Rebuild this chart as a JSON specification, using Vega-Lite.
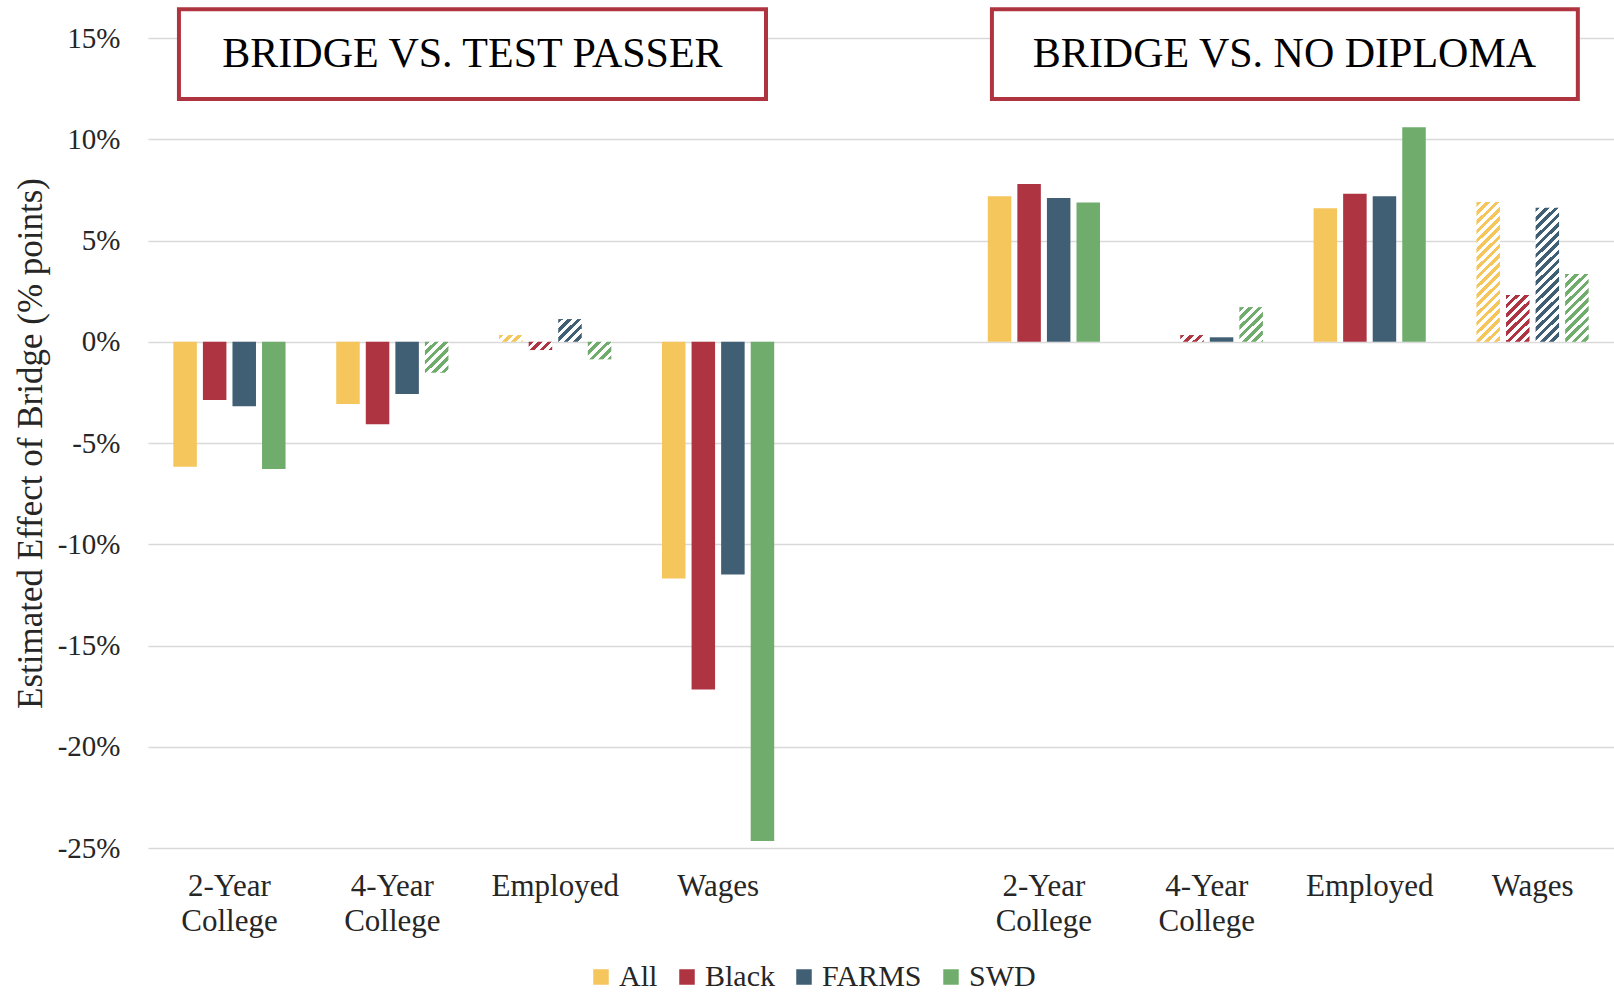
{
  "$schema": "https://vega.github.io/schema/vega-lite/v6.json",
  "width": 1466,
  "height": 810,
  "autosize": {"type": "none"},
  "padding": {"left": 148, "top": 38, "right": 0, "bottom": 146},
  "background": "white",
  "config": {
    "view": {"stroke": null},
    "font": "Liberation Serif"
  },
  "datasets": {
    "bars": [
      {"cat": "P1", "group": "All", "value": -0.0617, "sig": 1},
      {"cat": "P1", "group": "Black", "value": -0.0288, "sig": 1},
      {"cat": "P1", "group": "FARMS", "value": -0.0318, "sig": 1},
      {"cat": "P1", "group": "SWD", "value": -0.0629, "sig": 1},
      {"cat": "P2", "group": "All", "value": -0.0308, "sig": 1},
      {"cat": "P2", "group": "Black", "value": -0.0408, "sig": 1},
      {"cat": "P2", "group": "FARMS", "value": -0.0258, "sig": 1},
      {"cat": "P2", "group": "SWD", "value": -0.0153, "sig": 0},
      {"cat": "P3", "group": "All", "value": 0.0033, "sig": 0},
      {"cat": "P3", "group": "Black", "value": -0.0041, "sig": 0},
      {"cat": "P3", "group": "FARMS", "value": 0.0112, "sig": 0},
      {"cat": "P3", "group": "SWD", "value": -0.0087, "sig": 0},
      {"cat": "P4", "group": "All", "value": -0.1169, "sig": 1},
      {"cat": "P4", "group": "Black", "value": -0.1717, "sig": 1},
      {"cat": "P4", "group": "FARMS", "value": -0.1149, "sig": 1},
      {"cat": "P4", "group": "SWD", "value": -0.2466, "sig": 1},
      {"cat": "N1", "group": "All", "value": 0.0719, "sig": 1},
      {"cat": "N1", "group": "Black", "value": 0.0779, "sig": 1},
      {"cat": "N1", "group": "FARMS", "value": 0.071, "sig": 1},
      {"cat": "N1", "group": "SWD", "value": 0.0688, "sig": 1},
      {"cat": "N2", "group": "All", "value": 0.0, "sig": 1},
      {"cat": "N2", "group": "Black", "value": 0.0033, "sig": 0},
      {"cat": "N2", "group": "FARMS", "value": 0.0022, "sig": 1},
      {"cat": "N2", "group": "SWD", "value": 0.0171, "sig": 0},
      {"cat": "N3", "group": "All", "value": 0.0659, "sig": 1},
      {"cat": "N3", "group": "Black", "value": 0.0731, "sig": 1},
      {"cat": "N3", "group": "FARMS", "value": 0.0719, "sig": 1},
      {"cat": "N3", "group": "SWD", "value": 0.1059, "sig": 1},
      {"cat": "N4", "group": "All", "value": 0.069, "sig": 0},
      {"cat": "N4", "group": "Black", "value": 0.0231, "sig": 0},
      {"cat": "N4", "group": "FARMS", "value": 0.0662, "sig": 0},
      {"cat": "N4", "group": "SWD", "value": 0.0334, "sig": 0}
    ],
    "boxes": [
      {"label": "BRIDGE VS. TEST PASSER", "x0": 0.19, "x1": 3.794, "xc": 1.992, "y0": 0.1642, "y1": 0.1199, "yc": 0.1423},
      {"label": "BRIDGE VS. NO DIPLOMA", "x0": 5.181, "x1": 8.778, "xc": 6.977, "y0": 0.1642, "y1": 0.1199, "yc": 0.1423}
    ]
  },
  "resolve": {"scale": {"x": "independent"}, "axis": {"x": "independent"}},
  "layer": [
    {
      "data": {"name": "bars"},
      "encoding": {
        "x": {
          "field": "cat", "type": "nominal",
          "scale": {"domain": ["P1", "P2", "P3", "P4", "gap", "N1", "N2", "N3", "N4"], "paddingInner": 0, "paddingOuter": 0},
          "axis": {
            "title": null, "labelAngle": 0, "domain": false, "ticks": false, "grid": false,
            "labelPadding": 23, "labelFontSize": 31, "labelLineHeight": 35, "labelFont": "Liberation Serif", "labelColor": "#262626",
            "labelExpr": "datum.value == 'gap' ? '' : (datum.value == 'P1' || datum.value == 'N1') ? ['2-Year', 'College'] : (datum.value == 'P2' || datum.value == 'N2') ? ['4-Year', 'College'] : (datum.value == 'P3' || datum.value == 'N3') ? 'Employed' : 'Wages'"
          }
        },
        "xOffset": {"field": "group", "type": "nominal", "scale": {"domain": ["All", "Black", "FARMS", "SWD"], "paddingInner": 0.205, "paddingOuter": 0.857}},
        "y": {
          "field": "value", "type": "quantitative",
          "scale": {"domain": [-0.25, 0.15], "nice": false},
          "axis": {
            "values": [-0.25, -0.2, -0.15, -0.1, -0.05, 0, 0.05, 0.1, 0.15],
            "labelExpr": "(datum.value < 0 ? '-' : '') + format(abs(datum.value), '.0%')",
            "domain": false, "ticks": false, "grid": true, "gridColor": "#D9D9D9", "gridWidth": 1.5,
            "labelPadding": 28, "labelFontSize": 29, "labelFont": "Liberation Serif", "labelColor": "#262626",
            "title": "Estimated Effect of Bridge (% points)", "titleFontSize": 35, "titleFont": "Liberation Serif",
            "titleFontWeight": "normal", "titleColor": "#262626", "titleX": -118, "titleBaseline": "middle"
          }
        }
      },
      "layer": [
        {
          "transform": [{"filter": "datum.sig == 1"}],
          "mark": {"type": "bar"},
          "encoding": {
            "color": {
              "field": "group", "type": "nominal",
              "scale": {"domain": ["All", "Black", "FARMS", "SWD"], "range": ["#F4C65C", "#AD3440", "#405F75", "#70AD6C"]},
              "legend": {
                "title": null, "orient": "none", "legendX": 438, "legendY": 924, "direction": "horizontal",
                "symbolType": "square", "symbolSize": 240, "symbolStrokeWidth": 0, "symbolOpacity": 1,
                "labelFontSize": 30, "labelFont": "Liberation Serif", "labelColor": "#262626",
                "columnPadding": 14, "labelOffset": 3
              }
            }
          }
        },
        {
          "transform": [{"filter": "datum.sig == 0"}],
          "mark": {"type": "bar"},
          "encoding": {
            "fill": {
              "condition": [
                {"test": "datum.cat == 'P2' && datum.group == 'SWD'", "value": {"gradient": "linear", "x1": 0, "y1": 0, "x2": 2.840, "y2": 3.828, "stops": [
                  {"offset": 0, "color": "#70AD6C"}, {"offset": 0.025, "color": "#70AD6C"}, {"offset": 0.025, "color": "#fff"}, {"offset": 0.05, "color": "#fff"},
                  {"offset": 0.05, "color": "#70AD6C"}, {"offset": 0.075, "color": "#70AD6C"}, {"offset": 0.075, "color": "#fff"}, {"offset": 0.1, "color": "#fff"},
                  {"offset": 0.1, "color": "#70AD6C"}, {"offset": 0.125, "color": "#70AD6C"}, {"offset": 0.125, "color": "#fff"}, {"offset": 0.15, "color": "#fff"},
                  {"offset": 0.15, "color": "#70AD6C"}, {"offset": 0.175, "color": "#70AD6C"}, {"offset": 0.175, "color": "#fff"}, {"offset": 0.2, "color": "#fff"},
                  {"offset": 0.2, "color": "#70AD6C"}, {"offset": 0.225, "color": "#70AD6C"}, {"offset": 0.225, "color": "#fff"}, {"offset": 0.25, "color": "#fff"},
                  {"offset": 0.25, "color": "#70AD6C"}, {"offset": 0.275, "color": "#70AD6C"}, {"offset": 0.275, "color": "#fff"}, {"offset": 0.3, "color": "#fff"}
                ]}},
                {"test": "datum.cat == 'P3' && datum.group == 'All'", "value": {"gradient": "linear", "x1": 0, "y1": 0, "x2": 7.374, "y2": 2.148, "stops": [
                  {"offset": 0, "color": "#F4C65C"}, {"offset": 0.025, "color": "#F4C65C"}, {"offset": 0.025, "color": "#fff"}, {"offset": 0.05, "color": "#fff"},
                  {"offset": 0.05, "color": "#F4C65C"}, {"offset": 0.075, "color": "#F4C65C"}, {"offset": 0.075, "color": "#fff"}, {"offset": 0.1, "color": "#fff"},
                  {"offset": 0.1, "color": "#F4C65C"}, {"offset": 0.125, "color": "#F4C65C"}, {"offset": 0.125, "color": "#fff"}, {"offset": 0.15, "color": "#fff"},
                  {"offset": 0.15, "color": "#F4C65C"}, {"offset": 0.175, "color": "#F4C65C"}, {"offset": 0.175, "color": "#fff"}, {"offset": 0.2, "color": "#fff"}
                ]}},
                {"test": "datum.cat == 'P3' && datum.group == 'Black'", "value": {"gradient": "linear", "x1": 0, "y1": 0, "x2": 7.078, "y2": 2.554, "stops": [
                  {"offset": 0, "color": "#AD3440"}, {"offset": 0.025, "color": "#AD3440"}, {"offset": 0.025, "color": "#fff"}, {"offset": 0.05, "color": "#fff"},
                  {"offset": 0.05, "color": "#AD3440"}, {"offset": 0.075, "color": "#AD3440"}, {"offset": 0.075, "color": "#fff"}, {"offset": 0.1, "color": "#fff"},
                  {"offset": 0.1, "color": "#AD3440"}, {"offset": 0.125, "color": "#AD3440"}, {"offset": 0.125, "color": "#fff"}, {"offset": 0.15, "color": "#fff"},
                  {"offset": 0.15, "color": "#AD3440"}, {"offset": 0.175, "color": "#AD3440"}, {"offset": 0.175, "color": "#fff"}, {"offset": 0.2, "color": "#fff"}
                ]}},
                {"test": "datum.cat == 'P3' && datum.group == 'FARMS'", "value": {"gradient": "linear", "x1": 0, "y1": 0, "x2": 4.052, "y2": 4.0, "stops": [
                  {"offset": 0, "color": "#405F75"}, {"offset": 0.025, "color": "#405F75"}, {"offset": 0.025, "color": "#fff"}, {"offset": 0.05, "color": "#fff"},
                  {"offset": 0.05, "color": "#405F75"}, {"offset": 0.075, "color": "#405F75"}, {"offset": 0.075, "color": "#fff"}, {"offset": 0.1, "color": "#fff"},
                  {"offset": 0.1, "color": "#405F75"}, {"offset": 0.125, "color": "#405F75"}, {"offset": 0.125, "color": "#fff"}, {"offset": 0.15, "color": "#fff"},
                  {"offset": 0.15, "color": "#405F75"}, {"offset": 0.175, "color": "#405F75"}, {"offset": 0.175, "color": "#fff"}, {"offset": 0.2, "color": "#fff"},
                  {"offset": 0.2, "color": "#405F75"}, {"offset": 0.225, "color": "#405F75"}, {"offset": 0.225, "color": "#fff"}, {"offset": 0.25, "color": "#fff"}
                ]}},
                {"test": "datum.cat == 'P3' && datum.group == 'SWD'", "value": {"gradient": "linear", "x1": 0, "y1": 0, "x2": 5.045, "y2": 3.861, "stops": [
                  {"offset": 0, "color": "#70AD6C"}, {"offset": 0.025, "color": "#70AD6C"}, {"offset": 0.025, "color": "#fff"}, {"offset": 0.05, "color": "#fff"},
                  {"offset": 0.05, "color": "#70AD6C"}, {"offset": 0.075, "color": "#70AD6C"}, {"offset": 0.075, "color": "#fff"}, {"offset": 0.1, "color": "#fff"},
                  {"offset": 0.1, "color": "#70AD6C"}, {"offset": 0.125, "color": "#70AD6C"}, {"offset": 0.125, "color": "#fff"}, {"offset": 0.15, "color": "#fff"},
                  {"offset": 0.15, "color": "#70AD6C"}, {"offset": 0.175, "color": "#70AD6C"}, {"offset": 0.175, "color": "#fff"}, {"offset": 0.2, "color": "#fff"},
                  {"offset": 0.2, "color": "#70AD6C"}, {"offset": 0.225, "color": "#70AD6C"}, {"offset": 0.225, "color": "#fff"}, {"offset": 0.25, "color": "#fff"}
                ]}},
                {"test": "datum.cat == 'N2' && datum.group == 'Black'", "value": {"gradient": "linear", "x1": 0, "y1": 0, "x2": 7.374, "y2": 2.148, "stops": [
                  {"offset": 0, "color": "#AD3440"}, {"offset": 0.025, "color": "#AD3440"}, {"offset": 0.025, "color": "#fff"}, {"offset": 0.05, "color": "#fff"},
                  {"offset": 0.05, "color": "#AD3440"}, {"offset": 0.075, "color": "#AD3440"}, {"offset": 0.075, "color": "#fff"}, {"offset": 0.1, "color": "#fff"},
                  {"offset": 0.1, "color": "#AD3440"}, {"offset": 0.125, "color": "#AD3440"}, {"offset": 0.125, "color": "#fff"}, {"offset": 0.15, "color": "#fff"},
                  {"offset": 0.15, "color": "#AD3440"}, {"offset": 0.175, "color": "#AD3440"}, {"offset": 0.175, "color": "#fff"}, {"offset": 0.2, "color": "#fff"}
                ]}},
                {"test": "datum.cat == 'N2' && datum.group == 'SWD'", "value": {"gradient": "linear", "x1": 0, "y1": 0, "x2": 2.452, "y2": 3.688, "stops": [
                  {"offset": 0, "color": "#70AD6C"}, {"offset": 0.025, "color": "#70AD6C"}, {"offset": 0.025, "color": "#fff"}, {"offset": 0.05, "color": "#fff"},
                  {"offset": 0.05, "color": "#70AD6C"}, {"offset": 0.075, "color": "#70AD6C"}, {"offset": 0.075, "color": "#fff"}, {"offset": 0.1, "color": "#fff"},
                  {"offset": 0.1, "color": "#70AD6C"}, {"offset": 0.125, "color": "#70AD6C"}, {"offset": 0.125, "color": "#fff"}, {"offset": 0.15, "color": "#fff"},
                  {"offset": 0.15, "color": "#70AD6C"}, {"offset": 0.175, "color": "#70AD6C"}, {"offset": 0.175, "color": "#fff"}, {"offset": 0.2, "color": "#fff"},
                  {"offset": 0.2, "color": "#70AD6C"}, {"offset": 0.225, "color": "#70AD6C"}, {"offset": 0.225, "color": "#fff"}, {"offset": 0.25, "color": "#fff"},
                  {"offset": 0.25, "color": "#70AD6C"}, {"offset": 0.275, "color": "#70AD6C"}, {"offset": 0.275, "color": "#fff"}, {"offset": 0.3, "color": "#fff"},
                  {"offset": 0.3, "color": "#70AD6C"}, {"offset": 0.325, "color": "#70AD6C"}, {"offset": 0.325, "color": "#fff"}, {"offset": 0.35, "color": "#fff"}
                ]}},
                {"test": "datum.cat == 'N4' && datum.group == 'All'", "value": {"gradient": "linear", "x1": 0, "y1": 0, "x2": 0.2111, "y2": 1.2824, "stops": [
                  {"offset": 0, "color": "#F4C65C"}, {"offset": 0.025, "color": "#F4C65C"}, {"offset": 0.025, "color": "#fff"}, {"offset": 0.05, "color": "#fff"},
                  {"offset": 0.05, "color": "#F4C65C"}, {"offset": 0.075, "color": "#F4C65C"}, {"offset": 0.075, "color": "#fff"}, {"offset": 0.1, "color": "#fff"},
                  {"offset": 0.1, "color": "#F4C65C"}, {"offset": 0.125, "color": "#F4C65C"}, {"offset": 0.125, "color": "#fff"}, {"offset": 0.15, "color": "#fff"},
                  {"offset": 0.15, "color": "#F4C65C"}, {"offset": 0.175, "color": "#F4C65C"}, {"offset": 0.175, "color": "#fff"}, {"offset": 0.2, "color": "#fff"},
                  {"offset": 0.2, "color": "#F4C65C"}, {"offset": 0.225, "color": "#F4C65C"}, {"offset": 0.225, "color": "#fff"}, {"offset": 0.25, "color": "#fff"},
                  {"offset": 0.25, "color": "#F4C65C"}, {"offset": 0.275, "color": "#F4C65C"}, {"offset": 0.275, "color": "#fff"}, {"offset": 0.3, "color": "#fff"},
                  {"offset": 0.3, "color": "#F4C65C"}, {"offset": 0.325, "color": "#F4C65C"}, {"offset": 0.325, "color": "#fff"}, {"offset": 0.35, "color": "#fff"},
                  {"offset": 0.35, "color": "#F4C65C"}, {"offset": 0.375, "color": "#F4C65C"}, {"offset": 0.375, "color": "#fff"}, {"offset": 0.4, "color": "#fff"},
                  {"offset": 0.4, "color": "#F4C65C"}, {"offset": 0.425, "color": "#F4C65C"}, {"offset": 0.425, "color": "#fff"}, {"offset": 0.45, "color": "#fff"},
                  {"offset": 0.45, "color": "#F4C65C"}, {"offset": 0.475, "color": "#F4C65C"}, {"offset": 0.475, "color": "#fff"}, {"offset": 0.5, "color": "#fff"},
                  {"offset": 0.5, "color": "#F4C65C"}, {"offset": 0.525, "color": "#F4C65C"}, {"offset": 0.525, "color": "#fff"}, {"offset": 0.55, "color": "#fff"},
                  {"offset": 0.55, "color": "#F4C65C"}, {"offset": 0.575, "color": "#F4C65C"}, {"offset": 0.575, "color": "#fff"}, {"offset": 0.6, "color": "#fff"},
                  {"offset": 0.6, "color": "#F4C65C"}, {"offset": 0.625, "color": "#F4C65C"}, {"offset": 0.625, "color": "#fff"}, {"offset": 0.65, "color": "#fff"},
                  {"offset": 0.65, "color": "#F4C65C"}, {"offset": 0.675, "color": "#F4C65C"}, {"offset": 0.675, "color": "#fff"}, {"offset": 0.7, "color": "#fff"},
                  {"offset": 0.7, "color": "#F4C65C"}, {"offset": 0.725, "color": "#F4C65C"}, {"offset": 0.725, "color": "#fff"}, {"offset": 0.75, "color": "#fff"},
                  {"offset": 0.75, "color": "#F4C65C"}, {"offset": 0.775, "color": "#F4C65C"}, {"offset": 0.775, "color": "#fff"}, {"offset": 0.8, "color": "#fff"},
                  {"offset": 0.8, "color": "#F4C65C"}, {"offset": 0.825, "color": "#F4C65C"}, {"offset": 0.825, "color": "#fff"}, {"offset": 0.85, "color": "#fff"},
                  {"offset": 0.85, "color": "#F4C65C"}, {"offset": 0.875, "color": "#F4C65C"}, {"offset": 0.875, "color": "#fff"}, {"offset": 0.9, "color": "#fff"}
                ]}},
                {"test": "datum.cat == 'N4' && datum.group == 'Black'", "value": {"gradient": "linear", "x1": 0, "y1": 0, "x2": 1.5563, "y2": 3.1668, "stops": [
                  {"offset": 0, "color": "#AD3440"}, {"offset": 0.025, "color": "#AD3440"}, {"offset": 0.025, "color": "#fff"}, {"offset": 0.05, "color": "#fff"},
                  {"offset": 0.05, "color": "#AD3440"}, {"offset": 0.075, "color": "#AD3440"}, {"offset": 0.075, "color": "#fff"}, {"offset": 0.1, "color": "#fff"},
                  {"offset": 0.1, "color": "#AD3440"}, {"offset": 0.125, "color": "#AD3440"}, {"offset": 0.125, "color": "#fff"}, {"offset": 0.15, "color": "#fff"},
                  {"offset": 0.15, "color": "#AD3440"}, {"offset": 0.175, "color": "#AD3440"}, {"offset": 0.175, "color": "#fff"}, {"offset": 0.2, "color": "#fff"},
                  {"offset": 0.2, "color": "#AD3440"}, {"offset": 0.225, "color": "#AD3440"}, {"offset": 0.225, "color": "#fff"}, {"offset": 0.25, "color": "#fff"},
                  {"offset": 0.25, "color": "#AD3440"}, {"offset": 0.275, "color": "#AD3440"}, {"offset": 0.275, "color": "#fff"}, {"offset": 0.3, "color": "#fff"},
                  {"offset": 0.3, "color": "#AD3440"}, {"offset": 0.325, "color": "#AD3440"}, {"offset": 0.325, "color": "#fff"}, {"offset": 0.35, "color": "#fff"},
                  {"offset": 0.35, "color": "#AD3440"}, {"offset": 0.375, "color": "#AD3440"}, {"offset": 0.375, "color": "#fff"}, {"offset": 0.4, "color": "#fff"}
                ]}},
                {"test": "datum.cat == 'N4' && datum.group == 'FARMS'", "value": {"gradient": "linear", "x1": 0, "y1": 0, "x2": 0.2286, "y2": 1.3329, "stops": [
                  {"offset": 0, "color": "#405F75"}, {"offset": 0.025, "color": "#405F75"}, {"offset": 0.025, "color": "#fff"}, {"offset": 0.05, "color": "#fff"},
                  {"offset": 0.05, "color": "#405F75"}, {"offset": 0.075, "color": "#405F75"}, {"offset": 0.075, "color": "#fff"}, {"offset": 0.1, "color": "#fff"},
                  {"offset": 0.1, "color": "#405F75"}, {"offset": 0.125, "color": "#405F75"}, {"offset": 0.125, "color": "#fff"}, {"offset": 0.15, "color": "#fff"},
                  {"offset": 0.15, "color": "#405F75"}, {"offset": 0.175, "color": "#405F75"}, {"offset": 0.175, "color": "#fff"}, {"offset": 0.2, "color": "#fff"},
                  {"offset": 0.2, "color": "#405F75"}, {"offset": 0.225, "color": "#405F75"}, {"offset": 0.225, "color": "#fff"}, {"offset": 0.25, "color": "#fff"},
                  {"offset": 0.25, "color": "#405F75"}, {"offset": 0.275, "color": "#405F75"}, {"offset": 0.275, "color": "#fff"}, {"offset": 0.3, "color": "#fff"},
                  {"offset": 0.3, "color": "#405F75"}, {"offset": 0.325, "color": "#405F75"}, {"offset": 0.325, "color": "#fff"}, {"offset": 0.35, "color": "#fff"},
                  {"offset": 0.35, "color": "#405F75"}, {"offset": 0.375, "color": "#405F75"}, {"offset": 0.375, "color": "#fff"}, {"offset": 0.4, "color": "#fff"},
                  {"offset": 0.4, "color": "#405F75"}, {"offset": 0.425, "color": "#405F75"}, {"offset": 0.425, "color": "#fff"}, {"offset": 0.45, "color": "#fff"},
                  {"offset": 0.45, "color": "#405F75"}, {"offset": 0.475, "color": "#405F75"}, {"offset": 0.475, "color": "#fff"}, {"offset": 0.5, "color": "#fff"},
                  {"offset": 0.5, "color": "#405F75"}, {"offset": 0.525, "color": "#405F75"}, {"offset": 0.525, "color": "#fff"}, {"offset": 0.55, "color": "#fff"},
                  {"offset": 0.55, "color": "#405F75"}, {"offset": 0.575, "color": "#405F75"}, {"offset": 0.575, "color": "#fff"}, {"offset": 0.6, "color": "#fff"},
                  {"offset": 0.6, "color": "#405F75"}, {"offset": 0.625, "color": "#405F75"}, {"offset": 0.625, "color": "#fff"}, {"offset": 0.65, "color": "#fff"},
                  {"offset": 0.65, "color": "#405F75"}, {"offset": 0.675, "color": "#405F75"}, {"offset": 0.675, "color": "#fff"}, {"offset": 0.7, "color": "#fff"},
                  {"offset": 0.7, "color": "#405F75"}, {"offset": 0.725, "color": "#405F75"}, {"offset": 0.725, "color": "#fff"}, {"offset": 0.75, "color": "#fff"},
                  {"offset": 0.75, "color": "#405F75"}, {"offset": 0.775, "color": "#405F75"}, {"offset": 0.775, "color": "#fff"}, {"offset": 0.8, "color": "#fff"},
                  {"offset": 0.8, "color": "#405F75"}, {"offset": 0.825, "color": "#405F75"}, {"offset": 0.825, "color": "#fff"}, {"offset": 0.85, "color": "#fff"},
                  {"offset": 0.85, "color": "#405F75"}, {"offset": 0.875, "color": "#405F75"}, {"offset": 0.875, "color": "#fff"}, {"offset": 0.9, "color": "#fff"}
                ]}},
                {"test": "datum.cat == 'N4' && datum.group == 'SWD'", "value": {"gradient": "linear", "x1": 0, "y1": 0, "x2": 0.830, "y2": 2.4395, "stops": [
                  {"offset": 0, "color": "#70AD6C"}, {"offset": 0.025, "color": "#70AD6C"}, {"offset": 0.025, "color": "#fff"}, {"offset": 0.05, "color": "#fff"},
                  {"offset": 0.05, "color": "#70AD6C"}, {"offset": 0.075, "color": "#70AD6C"}, {"offset": 0.075, "color": "#fff"}, {"offset": 0.1, "color": "#fff"},
                  {"offset": 0.1, "color": "#70AD6C"}, {"offset": 0.125, "color": "#70AD6C"}, {"offset": 0.125, "color": "#fff"}, {"offset": 0.15, "color": "#fff"},
                  {"offset": 0.15, "color": "#70AD6C"}, {"offset": 0.175, "color": "#70AD6C"}, {"offset": 0.175, "color": "#fff"}, {"offset": 0.2, "color": "#fff"},
                  {"offset": 0.2, "color": "#70AD6C"}, {"offset": 0.225, "color": "#70AD6C"}, {"offset": 0.225, "color": "#fff"}, {"offset": 0.25, "color": "#fff"},
                  {"offset": 0.25, "color": "#70AD6C"}, {"offset": 0.275, "color": "#70AD6C"}, {"offset": 0.275, "color": "#fff"}, {"offset": 0.3, "color": "#fff"},
                  {"offset": 0.3, "color": "#70AD6C"}, {"offset": 0.325, "color": "#70AD6C"}, {"offset": 0.325, "color": "#fff"}, {"offset": 0.35, "color": "#fff"},
                  {"offset": 0.35, "color": "#70AD6C"}, {"offset": 0.375, "color": "#70AD6C"}, {"offset": 0.375, "color": "#fff"}, {"offset": 0.4, "color": "#fff"},
                  {"offset": 0.4, "color": "#70AD6C"}, {"offset": 0.425, "color": "#70AD6C"}, {"offset": 0.425, "color": "#fff"}, {"offset": 0.45, "color": "#fff"},
                  {"offset": 0.45, "color": "#70AD6C"}, {"offset": 0.475, "color": "#70AD6C"}, {"offset": 0.475, "color": "#fff"}, {"offset": 0.5, "color": "#fff"}
                ]}}
              ],
              "value": "#cccccc"
            }
          }
        }
      ]
    },
    {
      "data": {"name": "boxes"},
      "layer": [
        {
          "mark": {"type": "rect", "fill": "white", "stroke": "#AE3540", "strokeWidth": 4},
          "encoding": {
            "x": {"field": "x0", "type": "quantitative", "scale": {"domain": [0, 9], "nice": false, "zero": false}, "axis": null},
            "x2": {"field": "x1"},
            "y": {"field": "y0", "type": "quantitative", "scale": {"domain": [-0.25, 0.15], "nice": false}},
            "y2": {"field": "y1"}
          }
        },
        {
          "mark": {"type": "text", "font": "Liberation Serif", "fontSize": 42, "color": "#000000", "align": "center", "baseline": "middle"},
          "encoding": {
            "x": {"field": "xc", "type": "quantitative", "scale": {"domain": [0, 9], "nice": false, "zero": false}, "axis": null},
            "y": {"field": "yc", "type": "quantitative", "scale": {"domain": [-0.25, 0.15], "nice": false}},
            "text": {"field": "label"}
          }
        }
      ]
    }
  ]
}
